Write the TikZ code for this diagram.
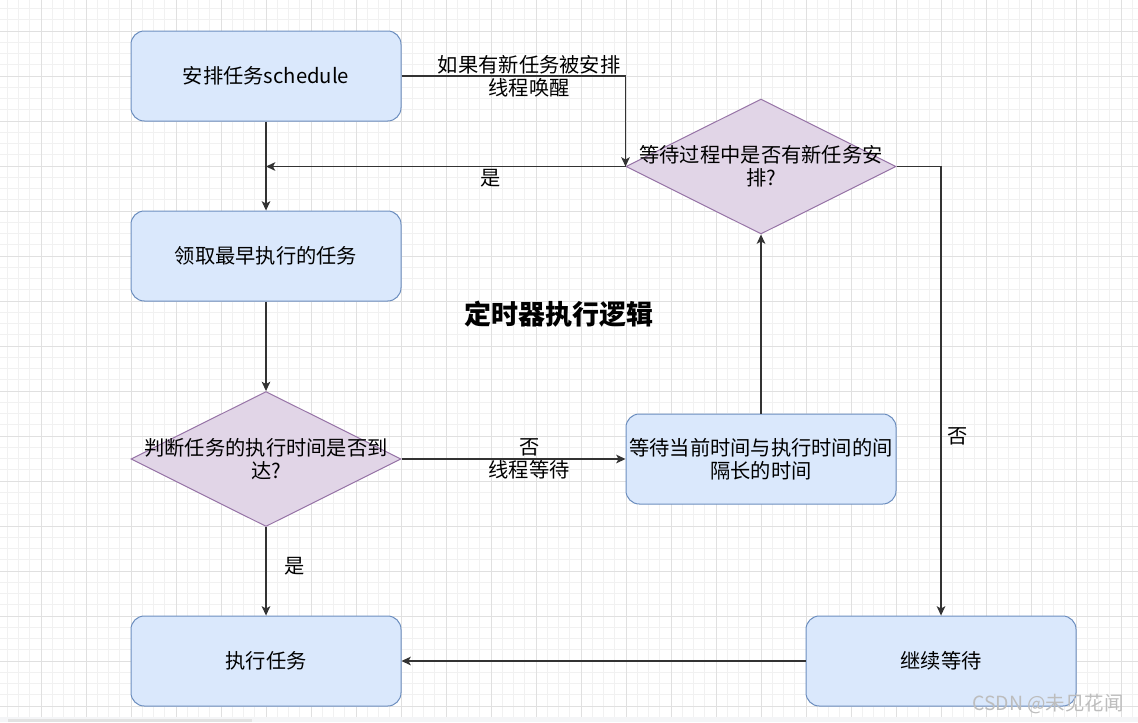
\documentclass[tikz,border=0pt]{standalone}
\usepackage{fontspec}
\setmainfont{Noto Sans CJK SC}
\usetikzlibrary{shapes.geometric,arrows.meta}
\definecolor{boxfill}{HTML}{DAE8FC}
\definecolor{boxdraw}{HTML}{6C8EBF}
\definecolor{diafill}{HTML}{E1D5E7}
\definecolor{diadraw}{HTML}{9673A6}
\definecolor{gridminor}{HTML}{F1F1F1}
\definecolor{gridmajor}{HTML}{E0E0E0}
\definecolor{edgecol}{HTML}{333333}
\definecolor{stripcol}{HTML}{F4F5F7}
\definecolor{barcol}{HTML}{E2E2E2}
\definecolor{wmcol}{HTML}{BDBDBD}
\newcommand{\mytxt}{\fontsize{15.2pt}{17.3pt}\selectfont}
\begin{document}
\begin{tikzpicture}[x=0.75pt,y=-0.75pt,
  box/.style={draw=boxdraw,fill=boxfill,rounded corners=10pt,minimum width=202.5pt,minimum height=67.5pt,inner sep=0pt,line width=0.75pt,font=\mytxt,align=center},
  dia/.style={diamond,draw=diadraw,fill=diafill,minimum width=202.5pt,minimum height=101.25pt,inner sep=0pt,line width=0.75pt},
  txt/.style={font=\mytxt,align=center,inner sep=0pt},
  lbl/.style={font=\mytxt,align=center,inner sep=0pt},
  titlestyle/.style={font=\fontsize{20.25pt}{24pt}\selectfont\bfseries,inner sep=0pt},
  wm/.style={font=\fontsize{14.6pt}{17pt}\selectfont,text=wmcol,inner sep=0pt},
  edge/.style={draw=edgecol,line width=0.9pt,-{Stealth[length=7pt,width=6.5pt,inset=1.8pt]}},
  gmin/.style={draw=gridminor,line width=0.75pt},
  gmaj/.style={draw=gridmajor,line width=0.75pt}]
\useasboundingbox (0,0) rectangle (1138,722);
\begin{scope}
\clip (0,0) rectangle (1138,722);
\fill[white] (0,0) rectangle (1138,722);
\foreach \i in {0,...,102} \draw[gmin] ({-4+\i*11.25},0) -- ({-4+\i*11.25},722);
\foreach \j in {0,...,66} \draw[gmin] (0,{-14+\j*11.25}) -- (1138,{-14+\j*11.25});
\foreach \i in {0,...,26} \draw[gmaj] ({-4+\i*45},0) -- ({-4+\i*45},722);
\foreach \j in {0,...,17} \draw[gmaj] (0,{-14+\j*45}) -- (1138,{-14+\j*45});
\fill[stripcol] (0,717) rectangle (1138,722);
\fill[barcol] (8,719) rectangle (252,722);
\end{scope}

\node[box] (A) at (266,76) {安排任务schedule};
\node[box] (B) at (266,256) {领取最早执行的任务};
\node[dia] (C) at (266,459) {};
\node[txt] (Ct) at (C.center) {判断任务的执行时间是否到\\达?};
\node[box] (D) at (266,661) {执行任务};
\node[box] (E) at (761,459) {等待当前时间与执行时间的间\\隔长的时间};
\node[dia] (F) at (761,166.5) {};
\node[txt] (Ft) at (F.center) {等待过程中是否有新任务安\\排?};
\node[box] (G) at (941,661) {继续等待};
\node[titlestyle] (T) at (559,314) {定时器执行逻辑};

\draw[edge] (A.south) -- (B.north);
\draw[edge] (F.west) -- (F.west -| A.south) node[lbl,pos=0.375,yshift=-8.6pt] (L1) {是};
\draw[edge] (A.east) -| (F.west) node[lbl,pos=0.285] (L2) {如果有新任务被安排\\线程唤醒};
\draw[edge] (B.south) -- (C.north);
\draw[edge] (C.east) -- (E.west) node[lbl,pos=0.57] (L3) {否\\线程等待};
\draw[edge] (C.south) -- (D.north) node[lbl,pos=0.444,xshift=21.75pt] (L4) {是};
\draw[edge] (E.north) -- (F.south);
\draw[edge] (F.east) -| (G.north) node[lbl,pos=0.8,xshift=12.75pt] (L5) {否};
\draw[edge] (G.west) -- (D.east);

\node[wm] (W) at (1048,704) {CSDN @未见花闻};
\end{tikzpicture}
\end{document}
